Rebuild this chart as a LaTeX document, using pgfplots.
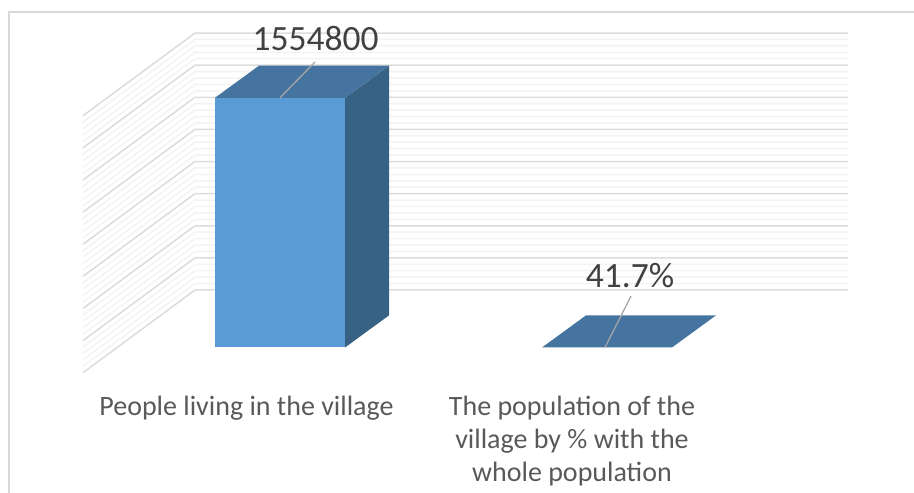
\documentclass[border=0pt]{standalone}
\usepackage{fontspec}
\setmainfont{Carlito}
\usepackage{pgfplots}
\pgfplotsset{compat=1.18}
\usepackage{pgfplotstable}
\definecolor{barfront}{HTML}{5B9BD5}
\definecolor{bartop}{HTML}{44749F}
\definecolor{barside}{HTML}{386284}
\definecolor{gridmajor}{HTML}{DCDCDC}
\definecolor{gridminor}{HTML}{F3F3F3}
\definecolor{framegray}{HTML}{D9D9D9}
\definecolor{leader}{HTML}{A6A6A6}
% Profile of one gridline across the side wall and the back wall
\pgfplotstableread{
x off
83 -156910
195 358030
848 358030
}\wallprofile
\begin{document}
\begin{tikzpicture}
\begin{axis}[
  scale only axis, width=914pt, height=493pt,
  xmin=0, xmax=914, ymin=-905970, ymax=2163744,
  ticks=none, axis line style={draw=none}, clip mode=individual,
]
% minor gridlines, every 40000
\pgfplotsinvokeforeach{1,2,3,4,6,7,8,9,11,12,13,14,16,17,18,19,21,22,23,24,26,27,28,29,31,32,33,34,36,37,38,39}{
  \addplot[gridminor, line width=1.5pt, no markers] table[x=x, y expr=#1*40000+\thisrow{off}] {\wallprofile};
}
% major gridlines, every 200000
\pgfplotsinvokeforeach{0,1,...,8}{
  \addplot[gridmajor, line width=1.5pt, no markers] table[x=x, y expr=#1*200000+\thisrow{off}] {\wallprofile};
}
% chart frame
\addplot[framegray, line width=1.6pt, no markers] coordinates {(9,-905970) (9,2088000) (914,2088000)};
% first bar: 1554800
\addplot[fill=barside, draw=none, no markers] coordinates {(345,0) (389,200000) (389,1754800) (345,1554800)} -- cycle;
\addplot[fill=bartop, draw=none, no markers] coordinates {(215,1554800) (259,1754800) (389,1754800) (345,1554800)} -- cycle;
\addplot[fill=barfront, draw=none, no markers] coordinates {(215,0) (345,0) (345,1554800) (215,1554800)} -- cycle;
% second bar: 41.7 is flat on this scale
\addplot[fill=bartop, draw=none, no markers] coordinates {(542,41.7) (586,200041.7) (716,200041.7) (672,41.7)} -- cycle;
% leader lines to the value labels
\addplot[leader, line width=1.3pt, no markers] coordinates {(280,1554800) (315,1778000)};
\addplot[leader, line width=1.3pt, no markers] coordinates {(605,41.7) (631,320000)};
% value labels
\node[text=black!75, font=\fontsize{35.5}{36}\selectfont, inner sep=0pt] at (axis cs:315.5,1921000) {1554800};
\node[text=black!75, font=\fontsize{35.5}{36}\selectfont, inner sep=0pt] at (axis cs:630,447000) {41.7\%};
% category labels
\node[text=black!65, font=\fontsize{28}{33}\selectfont, inner sep=0pt] at (axis cs:246.5,-376000) {People living in the village};
\node[text=black!65, font=\fontsize{28}{33}\selectfont, inner sep=0pt, align=center] at (axis cs:572,-584000) {The population of the\\village by \% with the\\whole population};
\end{axis}
\end{tikzpicture}
\end{document}
